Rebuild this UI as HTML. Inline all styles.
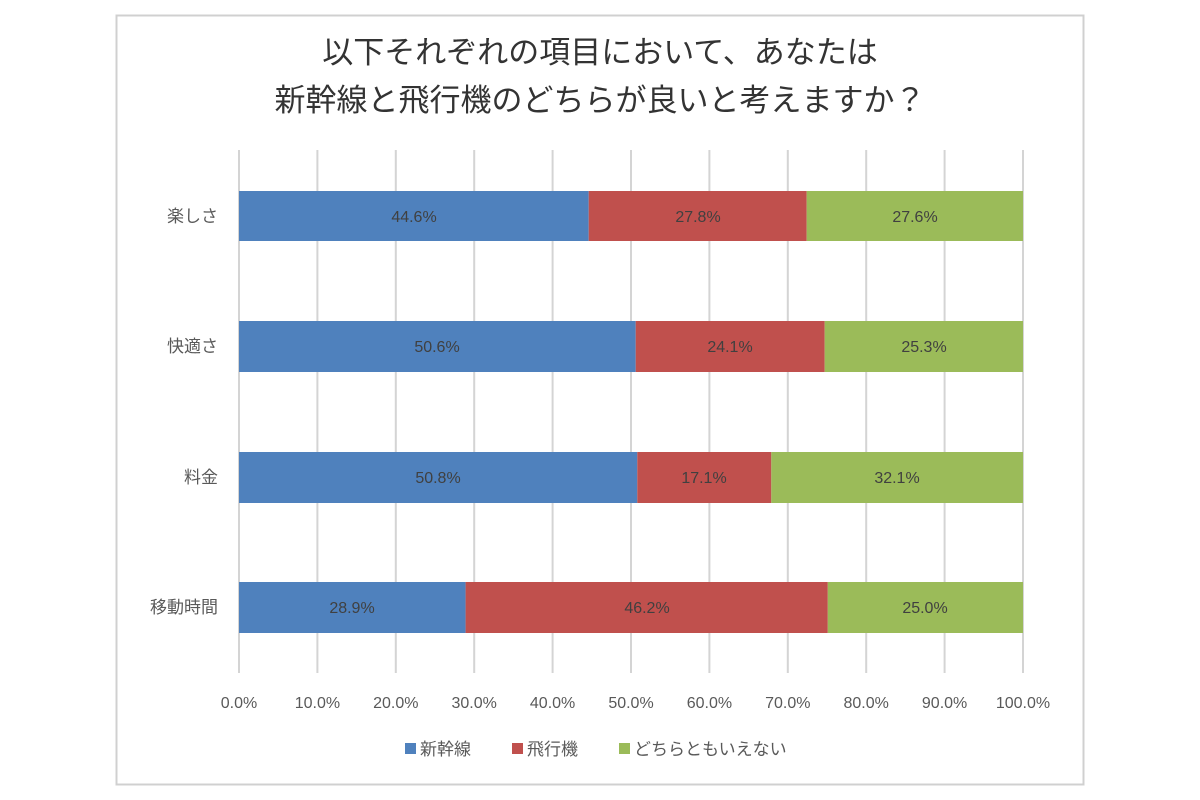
<!DOCTYPE html>
<html><head><meta charset="utf-8"><style>
html,body{margin:0;padding:0;background:#fff;}
svg{display:block;font-family:"Liberation Sans","Noto Sans CJK JP",sans-serif;}
</style></head><body>
<svg width="1200" height="800" viewBox="0 0 1200 800">
<rect x="116.5" y="15.5" width="967" height="769" fill="#fff" stroke="#d0d0d0" stroke-width="2"/>
<g font-size="31" fill="#333" text-anchor="middle">
<text x="600" y="63">以下それぞれの項目において、あなたは</text>
<text x="600" y="111">新幹線と飛行機のどちらが良いと考えますか？</text>
</g>
<g stroke="#d4d4d4" stroke-width="2">
<line x1="239" y1="150" x2="239" y2="673"/><line x1="317.4" y1="150" x2="317.4" y2="673"/>
<line x1="395.8" y1="150" x2="395.8" y2="673"/><line x1="474.2" y1="150" x2="474.2" y2="673"/>
<line x1="552.6" y1="150" x2="552.6" y2="673"/><line x1="631" y1="150" x2="631" y2="673"/>
<line x1="709.4" y1="150" x2="709.4" y2="673"/><line x1="787.8" y1="150" x2="787.8" y2="673"/>
<line x1="866.2" y1="150" x2="866.2" y2="673"/><line x1="944.6" y1="150" x2="944.6" y2="673"/>
<line x1="1023" y1="150" x2="1023" y2="673"/>
</g>
<g>
<rect x="239" y="191" width="349.7" height="50" fill="#4F81BD"/><rect x="588.7" y="191" width="218" height="50" fill="#C0504D"/><rect x="806.7" y="191" width="216.3" height="50" fill="#9BBB59"/>
<rect x="239" y="321" width="396.7" height="51" fill="#4F81BD"/><rect x="635.7" y="321" width="189" height="51" fill="#C0504D"/><rect x="824.7" y="321" width="198.3" height="51" fill="#9BBB59"/>
<rect x="239" y="452" width="398.3" height="51" fill="#4F81BD"/><rect x="637.3" y="452" width="134" height="51" fill="#C0504D"/><rect x="771.3" y="452" width="251.7" height="51" fill="#9BBB59"/>
<rect x="239" y="582" width="226.6" height="51" fill="#4F81BD"/><rect x="465.6" y="582" width="362.2" height="51" fill="#C0504D"/><rect x="827.8" y="582" width="195.2" height="51" fill="#9BBB59"/>
</g>
<g font-size="16" fill="#404040" text-anchor="middle">
<text x="414" y="222">44.6%</text><text x="698" y="222">27.8%</text><text x="915" y="222">27.6%</text>
<text x="437" y="352">50.6%</text><text x="730" y="352">24.1%</text><text x="924" y="352">25.3%</text>
<text x="438" y="483">50.8%</text><text x="704" y="483">17.1%</text><text x="897" y="483">32.1%</text>
<text x="352" y="613">28.9%</text><text x="647" y="613">46.2%</text><text x="925" y="613">25.0%</text>
</g>
<g font-size="17" fill="#595959" text-anchor="end">
<text x="218" y="222">楽しさ</text><text x="218" y="352">快適さ</text><text x="218" y="483">料金</text><text x="218" y="613">移動時間</text>
</g>
<g font-size="16" fill="#595959" text-anchor="middle">
<text x="239" y="708">0.0%</text><text x="317.4" y="708">10.0%</text><text x="395.8" y="708">20.0%</text>
<text x="474.2" y="708">30.0%</text><text x="552.6" y="708">40.0%</text><text x="631" y="708">50.0%</text>
<text x="709.4" y="708">60.0%</text><text x="787.8" y="708">70.0%</text><text x="866.2" y="708">80.0%</text>
<text x="944.6" y="708">90.0%</text><text x="1023" y="708">100.0%</text>
</g>
<g font-size="17" fill="#595959">
<rect x="405" y="743" width="11" height="11" fill="#4F81BD"/><text x="420" y="755">新幹線</text>
<rect x="512" y="743" width="11" height="11" fill="#C0504D"/><text x="527" y="755">飛行機</text>
<rect x="619" y="743" width="11" height="11" fill="#9BBB59"/><text x="634" y="755">どちらともいえない</text>
</g>
</svg>
</body></html>
